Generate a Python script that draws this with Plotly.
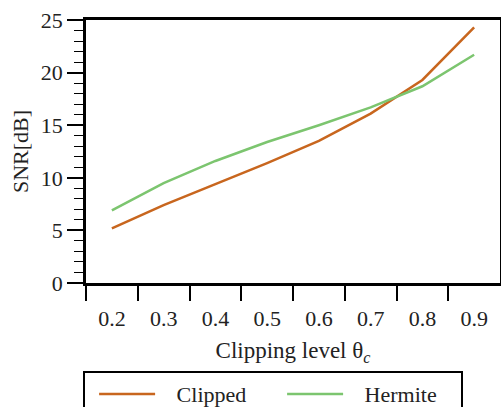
import plotly.graph_objects as go

clip_level = [0.2, 0.3, 0.4, 0.5, 0.6, 0.7, 0.8, 0.9]
snr_clipped = [5.2, 7.4, 9.4, 11.4, 13.5, 16.1, 19.3, 24.3]
snr_hermite = [6.9, 9.5, 11.6, 13.4, 15.0, 16.7, 18.7, 21.7]
x_tick_labels = ["0.2", "0.3", "0.4", "0.5", "0.6", "0.7", "0.8", "0.9"]
x_tick_marks = [0.15, 0.25, 0.35, 0.45, 0.55, 0.65, 0.75, 0.85]
series_names = ["Clipped", "Hermite"]

FONT = "Liberation Serif, Times New Roman, serif"
PAD = "\u00a0\u00a0\u00a0"

fig = go.Figure()
fig.add_trace(go.Scatter(x=clip_level, y=snr_clipped, mode="lines", name=PAD + series_names[0],
                         line=dict(color="#c8661e", width=2.5)))
fig.add_trace(go.Scatter(x=clip_level, y=snr_hermite, mode="lines", name=PAD + series_names[1],
                         line=dict(color="#7cc56f", width=2.5)))

fig.update_layout(
    width=501, height=407,
    margin=dict(l=86, r=1, t=20, b=124, autoexpand=False),
    paper_bgcolor="white", plot_bgcolor="white",
    font=dict(family=FONT, size=22, color="#222"),
    showlegend=True,
    legend=dict(orientation="h", x=-0.007, y=-0.335, xanchor="left", yanchor="top",
                bordercolor="black", borderwidth=2, font=dict(family=FONT, size=22),
                entrywidth=108, entrywidthmode="pixels", itemwidth=56, indentation=9,
                bgcolor="white"),
)
fig.update_xaxes(
    range=[0.15, 0.95], showgrid=False, zeroline=False,
    tickvals=clip_level, ticktext=x_tick_labels, ticks="",
    tickfont=dict(family=FONT, size=22),
    showline=True, linecolor="black", linewidth=2.5, mirror=True,
    minor=dict(tickvals=x_tick_marks, ticks="outside", ticklen=15, tickwidth=1.5, tickcolor="black"),
    ticklabelstandoff=14,
    title=dict(text="Clipping level θ<sub><i>c</i></sub>", standoff=12, font=dict(family=FONT, size=23)),
)
fig.update_yaxes(
    range=[0, 25], showgrid=False, zeroline=False,
    tickvals=[0, 5, 10, 15, 20, 25], ticks="outside", ticklen=16, tickwidth=1.5, tickcolor="black",
    tickfont=dict(family=FONT, size=22),
    showline=True, linecolor="black", linewidth=2.5, mirror=True,
    minor=dict(dtick=1, ticks="outside", ticklen=9, tickwidth=1, tickcolor="black"),
    title=dict(text="SNR[dB]", standoff=7, font=dict(family=FONT, size=22)),
)

fig.write_html("out.html")
